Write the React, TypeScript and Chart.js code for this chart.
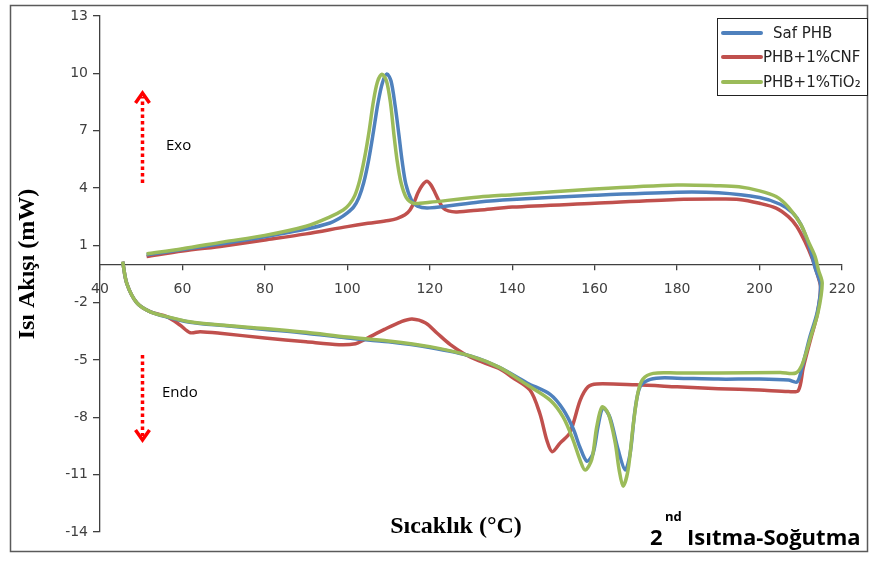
import React, { useEffect, useRef } from 'react';
import { Chart, registerables } from 'chart.js';

Chart.register(...registerables);

// ---------- data ----------
const xTickValues = [40, 60, 80, 100, 120, 140, 160, 180, 200, 220];
const yTickValues = [-14, -11, -8, -5, -2, 1, 4, 7, 10, 13];

const seriesLabels = ['Saf PHB', 'PHB+1%CNF', 'PHB+1%TiO₂'];
const seriesColors = ['#4F81BD', '#C0504D', '#9BBB59'];

// Saf PHB (loop: exo branch left->right, then endo branch right->left)
const safX = [51.3, 60, 70, 80, 90, 95.8, 98, 100, 101.5, 102.8, 104, 105.2, 106.3, 107.4, 108.5, 109.6, 110.6, 111.6, 112.5, 113.3, 114.2, 115.5, 117, 120, 132, 140, 160, 180, 190, 200, 205, 208, 210, 212, 213.5, 214.8, 214, 212.2, 210.3, 209.1, 207, 200, 190, 180, 175.9, 173, 171, 169.8, 168.6, 167.4, 165.7, 163.7, 162, 160.8, 159.6, 158.1, 156.4, 154.8, 152.4, 149.2, 143.6, 137, 130, 120, 110, 100, 90, 80, 70, 61.8, 56.2, 52.1, 48.9, 46.5, 45.5];
const safY = [0.5, 0.78, 1.1, 1.45, 1.85, 2.17, 2.4, 2.7, 3.0, 3.5, 4.3, 5.5, 6.9, 8.4, 9.5, 9.97, 9.6, 8.3, 6.8, 5.4, 4.2, 3.4, 3.05, 2.96, 3.27, 3.4, 3.62, 3.78, 3.75, 3.5, 3.15, 2.7, 2.1, 1.0, -0.2, -1.1, -2.5, -3.8, -5.4, -6.15, -6.05, -6.0, -6.0, -5.95, -5.94, -6.05, -6.4, -7.6, -9.9, -10.75, -9.7, -8.0, -7.5, -8.5, -9.9, -10.3, -9.55, -8.6, -7.6, -6.8, -6.2, -5.4, -4.8, -4.35, -4.05, -3.85, -3.6, -3.4, -3.2, -3.02, -2.75, -2.47, -2.0, -1.0, 0.15];

// PHB+1%CNF
const cnfX = [51.3, 60, 70, 80, 90, 100, 105, 110, 112, 114, 115.2, 116.3, 117.1, 118.2, 119.3, 120.3, 121.3, 122.3, 123.2, 124.5, 126.6, 132.2, 140, 160, 180, 190, 195, 200, 204, 207, 209, 211, 212.8, 214, 214.8, 214, 212.4, 210.6, 209.4, 207, 200, 190, 180, 170, 160.5, 158.4, 156.5, 154, 151.6, 149.7, 148.4, 146.7, 144.3, 140, 137, 132, 128.5, 125, 121.8, 119, 115.7, 113, 109, 104, 102, 98, 90, 80, 69.1, 64.3, 61.8, 59.4, 56.2, 52.1, 48.9, 46.5, 45.5];
const cnfY = [0.41, 0.7, 0.97, 1.28, 1.6, 1.98, 2.15, 2.3, 2.4, 2.6, 2.85, 3.3, 3.74, 4.15, 4.35, 4.15, 3.74, 3.3, 2.96, 2.8, 2.75, 2.85, 3.0, 3.2, 3.4, 3.42, 3.4, 3.2, 2.95, 2.5, 2.0, 1.2, 0.3, -0.5, -1.2, -2.6, -3.9, -5.4, -6.6, -6.65, -6.57, -6.5, -6.4, -6.3, -6.25, -6.4, -7.1, -8.8, -9.35, -9.8, -9.2, -7.8, -6.57, -5.9, -5.47, -5.05, -4.7, -4.2, -3.6, -3.06, -2.85, -3.0, -3.4, -3.95, -4.15, -4.2, -4.05, -3.85, -3.6, -3.52, -3.57, -3.17, -2.73, -2.47, -2.0, -1.0, 0.15];

// PHB+1%TiO2
const tioX = [51.3, 60, 70, 80, 90, 95.8, 99, 100.5, 101.8, 103, 104.2, 105.3, 106.3, 107.3, 108.4, 109.5, 110.5, 111.3, 112.1, 113, 114.3, 116, 117.6, 120, 132, 140, 160, 180, 190, 195, 200, 204, 207, 210, 212, 213.5, 214.3, 215.2, 214.2, 212.4, 210.4, 208.8, 205, 190, 180, 174.2, 171.7, 170.5, 169.3, 168.1, 166.9, 165.9, 165, 163.3, 161.8, 160.5, 159.3, 157.7, 156.4, 154.8, 152.4, 149.2, 143.6, 137, 130, 120, 110, 100, 90, 80, 69.1, 61.8, 56.2, 52.1, 48.9, 46.5, 45.5];
const tioY = [0.55, 0.82, 1.18, 1.52, 2.0, 2.49, 2.85, 3.15, 3.6, 4.4, 5.6, 7.0, 8.5, 9.55, 9.95, 9.6, 8.4, 6.8, 5.4, 4.3, 3.5, 3.2, 3.2, 3.25, 3.53, 3.65, 3.95, 4.16, 4.12, 4.06, 3.85, 3.55, 3.0, 2.1, 1.12, 0.4, -0.3, -0.97, -2.5, -3.8, -5.2, -5.68, -5.65, -5.68, -5.68, -5.7, -6.0, -6.7, -8.5, -10.76, -11.6, -10.7, -9.35, -7.8, -7.46, -8.5, -10.2, -10.76, -10.2, -9.2, -8.0, -7.1, -6.3, -5.4, -4.8, -4.3, -4.0, -3.8, -3.55, -3.35, -3.17, -3.0, -2.73, -2.47, -2.0, -1.0, 0.15];

const xTitle = 'Sıcaklık (°C)';
const yTitle = 'Isı Akışı (mW)';
const exoLabel = 'Exo';
const endoLabel = 'Endo';
const cornerMain = '2';
const cornerSup = 'nd';
const cornerRest = 'Isıtma-Soğutma';

const toPoints = (xs: number[], ys: number[]) => xs.map((x, i) => ({ x, y: ys[i] }));

function drawArrow(ctx: CanvasRenderingContext2D, x: number, yFrom: number, yTip: number) {
  const dir = yTip < yFrom ? -1 : 1;
  ctx.save();
  ctx.strokeStyle = '#FF0000';
  ctx.lineWidth = 3.5;
  ctx.setLineDash([3.5, 3]);
  ctx.beginPath();
  ctx.moveTo(x, yFrom);
  ctx.lineTo(x, yTip - dir * 4);
  ctx.stroke();
  ctx.setLineDash([]);
  ctx.lineWidth = 3.5;
  ctx.lineJoin = 'miter';
  ctx.beginPath();
  ctx.moveTo(x - 7, yTip - dir * 10);
  ctx.lineTo(x, yTip);
  ctx.lineTo(x + 7, yTip - dir * 10);
  ctx.stroke();
  ctx.restore();
}

const decorPlugin = {
  id: 'decor',
  afterDraw(chart: any) {
    const ctx: CanvasRenderingContext2D = chart.ctx;
    ctx.save();
    // outer frame
    ctx.strokeStyle = '#5a5a5a';
    ctx.lineWidth = 1.5;
    ctx.strokeRect(10.5, 5.5, 857, 546);

    // y title
    ctx.save();
    ctx.fillStyle = '#000';
    ctx.font = 'bold 24px "Liberation Serif"';
    ctx.textAlign = 'center';
    ctx.textBaseline = 'middle';
    ctx.translate(28, 264);
    ctx.rotate(-Math.PI / 2);
    ctx.fillText(yTitle, 0, 0);
    ctx.restore();

    // x title
    ctx.fillStyle = '#000';
    ctx.font = 'bold 24px "Liberation Serif"';
    ctx.textAlign = 'center';
    ctx.textBaseline = 'alphabetic';
    ctx.fillText(xTitle, 456, 533);

    // Exo / Endo
    drawArrow(ctx, 142.5, 183, 93);
    drawArrow(ctx, 142.5, 355, 440);
    ctx.fillStyle = '#000';
    ctx.font = '15px "Open Sans"';
    ctx.textAlign = 'left';
    ctx.textBaseline = 'middle';
    ctx.fillText(exoLabel, 166, 146);
    ctx.fillText(endoLabel, 162, 393);

    // corner text
    ctx.fillStyle = '#000';
    ctx.textBaseline = 'alphabetic';
    ctx.font = 'bold 22px "Open Sans"';
    ctx.fillText(cornerMain, 650, 545);
    ctx.font = 'bold 13px "Open Sans"';
    ctx.fillText(cornerSup, 665, 521);
    ctx.font = 'bold 22px "Open Sans"';
    ctx.fillText(cornerRest, 687, 545);

    // legend
    ctx.fillStyle = '#fff';
    ctx.fillRect(717, 18, 150, 77);
    ctx.strokeStyle = '#222';
    ctx.lineWidth = 1;
    ctx.strokeRect(717.5, 18.5, 150, 77);
    const rowsY = [33, 57, 82];
    const textX = [773, 763, 763];
    ctx.font = '15px "DejaVu Sans"';
    ctx.textBaseline = 'middle';
    ctx.textAlign = 'left';
    seriesLabels.forEach((lab, i) => {
      ctx.strokeStyle = seriesColors[i];
      ctx.lineWidth = 4;
      ctx.lineCap = 'round';
      ctx.beginPath();
      ctx.moveTo(723, rowsY[i]);
      ctx.lineTo(761, rowsY[i]);
      ctx.stroke();
      ctx.fillStyle = '#222';
      ctx.fillText(lab, textX[i], rowsY[i] + 1);
    });
    ctx.restore();
  },
};

export default function App() {
  const ref = useRef<HTMLCanvasElement | null>(null);
  useEffect(() => {
    if (!ref.current) return;
    const ds = (label: string, xs: number[], ys: number[], color: string, order: number) => ({
      label,
      data: toPoints(xs, ys),
      showLine: true,
      borderColor: color,
      backgroundColor: color,
      borderWidth: 3.5,
      pointRadius: 0,
      tension: 0.3,
      fill: false,
      order,
    });
    const chart = new Chart(ref.current, {
      type: 'scatter',
      data: {
        datasets: [
          ds(seriesLabels[0], safX, safY, seriesColors[0], 1),
          ds(seriesLabels[1], cnfX, cnfY, seriesColors[1], 2),
          ds(seriesLabels[2], tioX, tioY, seriesColors[2], 0),
        ],
      },
      options: {
        responsive: false,
        devicePixelRatio: 1,
        animation: false,
        layout: { padding: { left: 0, top: 16, right: 30, bottom: 29 } },
        plugins: { legend: { display: false }, tooltip: { enabled: false } },
        scales: {
          x: {
            type: 'linear',
            min: 40,
            max: 220,
            position: { y: 0 } as any,
            afterBuildTicks: (s: any) => { s.ticks = xTickValues.map((v) => ({ value: v })); },
            ticks: { font: { family: 'DejaVu Sans', size: 14 }, color: '#404040', padding: 12, maxRotation: 0, autoSkip: false },
            grid: { drawOnChartArea: false, drawTicks: true, tickLength: 5, color: '#404040', lineWidth: 1.3 },
            border: { display: true, color: '#404040', width: 1.3 },
          },
          y: {
            type: 'linear',
            min: -14,
            max: 13,
            position: 'left',
            afterFit: (s: any) => { s.width = 100; },
            afterBuildTicks: (s: any) => { s.ticks = yTickValues.map((v) => ({ value: v })); },
            ticks: { font: { family: 'DejaVu Sans', size: 14 }, color: '#404040', padding: 5, autoSkip: false },
            grid: { drawOnChartArea: false, drawTicks: true, tickLength: 7, color: '#404040', lineWidth: 1.3 },
            border: { display: true, color: '#404040', width: 1.3 },
          },
        },
      },
      plugins: [decorPlugin],
    } as any);
    return () => chart.destroy();
  }, []);
  return (
    <div style={{ position: 'fixed', left: 0, top: 0, width: 872, height: 561, background: '#fff' }}>
      <canvas ref={ref} width={872} height={561} style={{ display: 'block', width: 872, height: 561 }} />
    </div>
  );
}
